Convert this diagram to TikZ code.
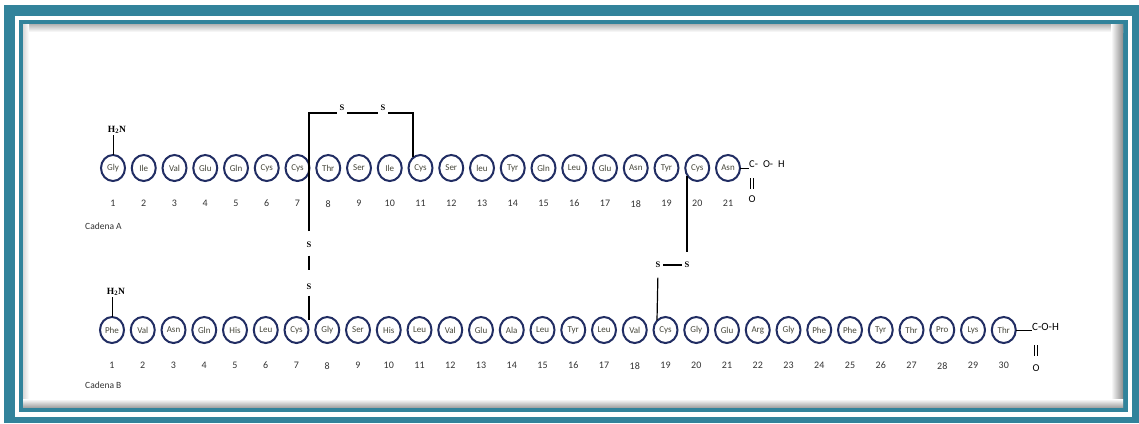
\documentclass[tikz,border=0pt]{standalone}
\usepackage{fontspec}
\setmainfont{Carlito}
\newfontfamily\serifS{Liberation Serif}
\usetikzlibrary{positioning,shapes.geometric}
\definecolor{frameteal}{RGB}{50,131,155}
\definecolor{ringblue}{RGB}{33,45,99}
\definecolor{aminotext}{RGB}{70,70,58}

\begin{document}
\begin{tikzpicture}[x=1pt,y=-1pt]
\tikzstyle{amino}=[ellipse,draw=ringblue,line width=2pt,fill=white,minimum width=24pt,minimum height=26pt,inner sep=0pt,outer sep=0pt,text=aminotext,font=\fontsize{9}{9}\selectfont]
\tikzstyle{num}=[inner sep=0pt,text=black!80,font=\fontsize{10}{10}\selectfont]
\tikzstyle{sulf}=[inner sep=2.5pt,font=\serifS\bfseries\fontsize{8.5}{8.5}\selectfont]
\tikzstyle{amine}=[inner sep=1pt,font=\serifS\bfseries\fontsize{9.5}{9.5}\selectfont]
\tikzstyle{carb}=[inner sep=0pt,font=\fontsize{10.5}{10.5}\selectfont]
\tikzstyle{bond}=[line width=1.2pt]
\tikzstyle{dbond}=[draw=black,double=white,line width=0.9pt,double distance=2.4pt]
\useasboundingbox (0,0) rectangle (1139,423);
\fill[white] (0,0) rectangle (1139,423);
\fill[frameteal] (4,5) rectangle (1139,423);
\fill[white] (15,16) rectangle (1132,417);
\fill[frameteal] (19,20) rectangle (1128,412);
\fill[white] (23,24) rectangle (1123,407);
\shade[top color=black!30,bottom color=white] (23,24) rectangle (1123,32);
\shade[left color=black!15,right color=white] (23,24) rectangle (29,407);
\shade[left color=white,right color=black!45] (1111,24) rectangle (1123,407);
\shade[top color=white,bottom color=black!35] (23,399) rectangle (1123,407);

\node[amino] (a1) at (113,168) {Gly};
\foreach \n [count=\i from 2] in {Ile,Val,Glu,Gln,Cys,Cys,Thr,Ser,Ile,Cys,Ser,leu,Tyr,Gln,Leu,Glu,Asn,Tyr,Cys,Asn}{
  \pgfmathtruncatemacro{\j}{\i-1}
  \node[amino] (a\i) [right=6.75pt of a\j] {\n};
}
\node[amino] (b1) at (112,330) {Phe};
\foreach \n [count=\i from 2] in {Val,Asn,Gln,His,Leu,Cys,Gly,Ser,His,Leu,Val,Glu,Ala,Leu,Tyr,Leu,Val,Cys,Gly,Glu,Arg,Gly,Phe,Phe,Tyr,Thr,Pro,Lys,Thr}{
  \pgfmathtruncatemacro{\j}{\i-1}
  \node[amino] (b\i) [right=6.75pt of b\j] {\n};
}
\foreach \i in {1,...,21}
  \node[num] (na\i) [below=19pt of a\i] {\i};
\foreach \i in {1,...,30}
  \node[num] (nb\i) [below=19pt of b\i] {\i};
\node[num,anchor=west,font=\fontsize{9.5}{9.5}\selectfont] (cadA) at (85,226) {Cadena A};
\node[num,anchor=west,font=\fontsize{9.5}{9.5}\selectfont] (cadB) at (85,385) {Cadena B};

\node[amine] (nhA) [above=20pt of a1,xshift=4pt] {H\textsubscript{2}N};
\node[amine] (nhB) [above=20pt of b1,xshift=4pt] {H\textsubscript{2}N};
\draw[line width=0.6pt] (a1.north) -- (a1.north |- nhA.south);
\draw[line width=0.6pt] (b1.north) -- (b1.north |- nhB.south);

\node[carb,anchor=west] (coohA) at (749,164) {C-\hspace{5pt}O-\hspace{5pt}H};
\node[carb] (oA) at (752,199) {O};
\coordinate (dA1) at (752,178);
\coordinate (dA2) at (752,189);
\draw[line width=0.8pt] (a21.east) -- (a21.east -| coohA.west);
\draw[dbond] (dA1) -- (dA2);
\node[carb,anchor=west,font=\fontsize{11}{11}\selectfont] (coohB) at (1032,327) {C-O-H};
\node[carb] (oB) at (1036,368) {O};
\coordinate (dB1) at (1036,345);
\coordinate (dB2) at (1036,356);
\draw[line width=0.8pt] (b30.east) -- (b30.east -| coohB.west);
\draw[dbond] (dB1) -- (dB2);

\coordinate (ka) at (309,113);
\coordinate (kb) at (413,113);
\coordinate (ka11) at (413,157);
\coordinate (kd) at (309,231);
\coordinate (kf) at (309,320);
\coordinate (kc) at (687,176);
\coordinate (kh) at (657,320);
\node[sulf] (sA1) at (342,108) {S};
\node[sulf] (sA2) at (383,108) {S};
\node[sulf] (sB1) at (309,245) {S};
\node[sulf] (sB2) at (309,287) {S};
\node[sulf] (sC1) at (658,265) {S};
\node[sulf] (sC2) at (687,265) {S};
\draw[bond] (kd) -- (ka) -- (sA1.west |- ka);
\draw[bond] (sA1.east |- ka) -- (sA2.west |- ka);
\draw[bond] (sA2.east |- kb) -- (kb) -- (ka11);
\draw[bond,shorten <=5pt,shorten >=11pt] (sB1.south) -- (sB2.north);
\draw[bond,shorten <=3pt] (sB2.south) -- (kf);
\draw[bond,shorten >=7pt] (kc) -- (sC2.north);
\draw[bond] (sC1.east) -- (sC2.west);
\draw[bond,shorten <=7pt] (sC1.south) -- (kh);
\end{tikzpicture}
\end{document}
